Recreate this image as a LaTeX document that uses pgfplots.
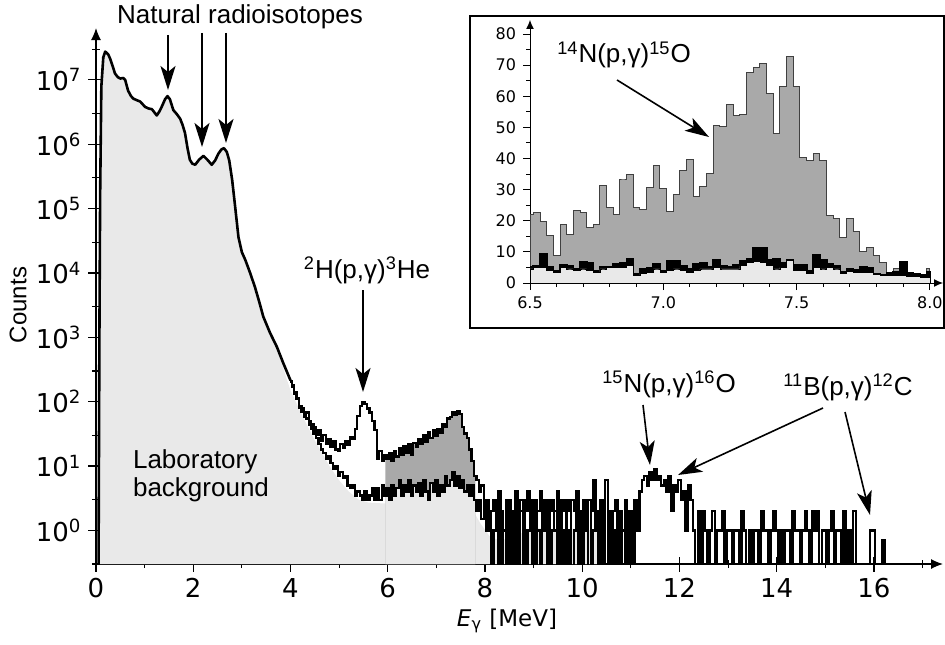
\documentclass[border=0pt]{standalone}
\usepackage{fontspec}
\setmainfont{Liberation Sans}
\newfontfamily\dejavu{DejaVu Sans}
\usepackage{pgfplots}
\usepackage{pgfplotstable}
\pgfplotsset{compat=1.18}
\usetikzlibrary{arrows.meta}

\definecolor{labgray}{HTML}{E9E9E9}
\definecolor{peakgray}{HTML}{A9A9A9}
\newcommand\ann{\fontsize{13}{14}\selectfont}
\pgfplotsset{table/bins/.style={x index=0, y index=0, x expr={4+0.05*\coordindex}, y expr={max(\thisrow{c},0.1)}}}

% counts per 0.05 MeV bin, first bin at 4.00 MeV (0 = empty bin)
\pgfplotstableread[row sep=\\]{
c\\
210\\180\\140\\115\\85\\78\\62\\68\\50\\45\\40\\30\\36\\25\\30\\22\\26\\20\\24\\18\\
17\\22\\19\\24\\21\\28\\26\\38\\60\\85\\97\\92\\78\\68\\50\\36\\13\\17\\12\\15\\
13\\16\\12\\17\\14\\19\\15\\20\\16\\22\\15\\23\\20\\26\\22\\30\\24\\33\\27\\36\\
29\\38\\33\\45\\40\\55\\58\\68\\62\\70\\65\\40\\32\\27\\18\\12\\7\\6\\4\\5\\
2\\3\\1\\2\\3\\1\\4\\2\\0\\3\\1\\2\\0\\4\\1\\3\\0\\2\\4\\1\\
3\\0\\2\\4\\1\\3\\0\\2\\3\\1\\4\\0\\2\\3\\1\\0\\3\\2\\4\\0\\
2\\3\\1\\0\\2\\6\\1\\0\\3\\0\\6\\1\\0\\2\\3\\0\\2\\1\\3\\0\\
2\\0\\3\\1\\4\\6\\7\\5\\8\\6\\9\\6\\7\\5\\6\\4\\7\\2\\5\\4\\
6\\3\\4\\1\\5\\3\\1\\0\\2\\0\\2\\1\\0\\1\\2\\0\\1\\1\\2\\0\\
1\\1\\0\\1\\1\\0\\2\\1\\0\\1\\0\\1\\1\\0\\2\\1\\1\\0\\1\\2\\
1\\0\\1\\0\\1\\1\\0\\2\\1\\1\\0\\1\\2\\1\\0\\2\\1\\2\\0\\1\\
1\\0\\1\\2\\0\\1\\1\\0\\2\\0\\1\\0\\2\\0\\0\\0\\0\\0\\0\\1\\
1\\0\\0\\0\\0.7\\0\\
}\beam

\pgfplotstableread[row sep=\\]{
c\\
205\\170\\130\\110\\80\\70\\58\\55\\44\\38\\32\\27\\22\\18\\16\\13\\14\\11\\9\\10\\
7\\8\\6.5\\7\\5\\4.5\\5\\3.5\\4\\3.5\\3\\4\\3\\3.5\\4.5\\3\\4.5\\3\\5\\3.5\\
4.5\\3\\5\\3.5\\4.5\\6\\3.5\\5\\4\\6\\3.5\\5\\4\\5.5\\3.5\\6\\4\\3\\5.5\\4\\
6\\3.5\\5\\4\\7\\5\\6\\8\\5\\7\\4.5\\6\\4\\5\\3.5\\5\\3\\2\\3\\1.5\\
2\\1\\2\\0\\1\\3\\0\\2\\1\\0\\3\\0\\2\\1\\0\\2\\3\\0\\1\\2\\
0\\3\\1\\0\\2\\1\\3\\0\\1\\2\\0\\3\\1\\0\\2\\3\\0\\1\\2\\1\\
0\\2\\1\\3\\0\\1\\2\\0\\1\\0\\0\\2\\0\\0\\1\\0\\0\\1\\0\\0\\
0\\
}\nobeam

\pgfplotstableread{
x     U    M    L
6.500 22   5    4.5
6.525 22.5 5.5  5
6.550 19.7 9.2  5
6.575 15.4 5    4
6.600 8.9  4    3.5
6.625 18.9 5.8  5
6.650 15.7 5.5  4.5
6.675 23.2 4.5  4
6.700 22.6 6.8  4.5
6.725 17.8 6.5  4
6.750 18.8 4    3.5
6.775 31.3 5.2  4.5
6.800 24.3 5    5
6.825 22.1 6    5
6.850 33.1 6.5  5
6.875 35.0 7.8  5.5
6.900 24.2 3    2.5
6.925 23.6 4.5  3
6.950 30.7 4.8  3.5
6.975 37.7 6    4.5
7.000 30.4 3.8  3.5
7.025 23.1 7    4
7.050 28.5 7    4.5
7.075 36.1 5.5  4
7.100 39.7 4.5  3.5
7.125 27.7 6    4
7.150 30.9 6.5  4.5
7.175 35.2 5    4.5
7.200 50.5 7.5  5
7.225 50.3 5.5  4.5
7.250 57.5 5.2  4.5
7.275 53.8 5.9  4.5
7.300 54.2 7    5.5
7.325 67.7 7.8  6.5
7.350 69.3 11.3 7
7.375 70.4 11.3 6.5
7.400 60.8 7.5  5.5
7.425 48.1 7.8  4.5
7.450 63.2 6.5  5
7.475 72.8 7.3  7.3
7.500 63.2 5.9  4
7.525 40.4 5.9  4
7.550 39.5 4    3
7.575 41.7 9.1  5
7.600 39.5 7.3  4.5
7.625 21.8 6.2  5
7.650 20.7 5.6  4.5
7.675 14.5 3.5  3
7.700 20.7 4.5  3.8
7.725 16.4 4.3  3.5
7.750 10.0 5.2  3.5
7.775 11.3 4.8  3.3
7.800 8.7  3    2.7
7.825 6.6  2.7  2.5
7.850 3.0  3.3  2.3
7.875 4.6  3.5  2.5
7.900 5.7  6.6  2.3
7.925 3.0  3.3  2.2
7.950 3.0  3    2
7.975 2.5  2.5  1.8
8.000 4.8  3.5  1.8
}\insetdata

\begin{document}
\begin{tikzpicture}[>={Stealth[length=12pt,width=7.5pt,inset=3pt]}]
\useasboundingbox (-48pt,-40pt) rectangle (424.5pt,282pt);
\begin{axis}[
    scale only axis, width=423.5pt, height=268pt,
    ymode=log, log origin y=infty,
    xmin=0, xmax=17.42, ymin=0.3, ymax=6.4e7,
    axis lines=left,
    axis line style={line width=0.6pt, -{Latex[length=6pt,width=5pt]}},
    xtick={0,2,...,16}, minor xtick={1,3,...,17},
    ytick={1,10,100,1000,10000,100000,1000000,10000000},
    yticklabels={10\textsuperscript{0},10\textsuperscript{1},10\textsuperscript{2},10\textsuperscript{3},
                 10\textsuperscript{4},10\textsuperscript{5},10\textsuperscript{6},10\textsuperscript{7}},
    minor ytick={0.3,3,30,300,3000,30000,300000,3000000,30000000},
    tick align=center, major tick length=7.5pt, minor tick length=4pt,
    every tick/.style={black, line width=0.6pt},
    tick label style={font=\fontsize{13}{14}\dejavu},
    /pgf/number format/assume math mode=true,
]
% laboratory background
\addplot[draw=none, fill=labgray] coordinates {
 (0.05,0.1) (0.07,1000) (0.085,1.6e5) (0.11,7.9e6) (0.15,2.24e7) (0.19,2.75e7)
 (0.25,2.5e7) (0.29,2.14e7) (0.34,1.66e7) (0.39,1.26e7) (0.45,1.1e7) (0.50,1.05e7)
 (0.56,1.07e7) (0.60,1.0e7) (0.66,6.8e6) (0.72,5.6e6) (0.77,5.1e6) (0.85,4.8e6)
 (0.91,4.6e6) (1.01,3.8e6) (1.08,3.6e6) (1.15,3.5e6) (1.25,2.8e6) (1.30,3.2e6)
 (1.35,3.8e6) (1.42,5.0e6) (1.47,5.6e6) (1.52,5.0e6) (1.59,3.4e6) (1.66,2.95e6)
 (1.73,2.5e6) (1.78,2.0e6) (1.83,1.5e6) (1.88,8.9e5) (1.93,5.75e5) (1.98,5.0e5)
 (2.04,4.8e5) (2.12,5.75e5) (2.21,6.6e5) (2.29,5.75e5) (2.38,4.8e5) (2.45,5.6e5)
 (2.52,7.2e5) (2.58,8.3e5) (2.63,8.7e5) (2.69,7.6e5) (2.74,5.6e5) (2.80,2.8e5)
 (2.86,1.1e5) (2.93,3.6e4) (3.00,2.1e4) (3.07,1.6e4) (3.17,1.0e4) (3.27,6.0e3)
 (3.36,3.5e3) (3.44,2.1e3) (3.58,1170) (3.72,710) (3.85,330) (4.0,150) (4.2,70)
 (4.5,25) (4.8,10) (5.0,6) (5.2,4) (5.4,3) (5.6,2.7) (6.0,2.6) (6.5,2.6) (7.0,2.7)
 (7.3,3.0) (7.5,3.0) (7.7,2.4) (7.9,1.3) (8.1,0.8) (8.3,0.7) (8.6,0.8) (9.0,1.1)
 (9.5,1.0) (10.0,1.1) (10.35,0.9) (10.4,0.1)} \closedcycle;
% 14N(p,g)15O shading between the two runs
\addplot[draw=none, fill=peakgray, const plot mark mid, restrict x to domain=5.95:7.8]
  table[bins] {\beam} \closedcycle;
\addplot[draw=none, fill=labgray, const plot mark mid, restrict x to domain=5.95:7.8]
  table[bins] {\nobeam} \closedcycle;
% spectrum below 4 MeV
\addplot[black, line width=1.3pt, line join=round] coordinates {
 (0.05,0.1) (0.07,1000) (0.085,1.6e5) (0.11,7.9e6) (0.15,2.24e7) (0.19,2.75e7)
 (0.25,2.5e7) (0.29,2.14e7) (0.34,1.66e7) (0.39,1.26e7) (0.45,1.1e7) (0.50,1.05e7)
 (0.56,1.07e7) (0.60,1.0e7) (0.66,6.8e6) (0.72,5.6e6) (0.77,5.1e6) (0.85,4.8e6)
 (0.91,4.6e6) (1.01,3.8e6) (1.08,3.6e6) (1.15,3.5e6) (1.25,2.8e6) (1.30,3.2e6)
 (1.35,3.8e6) (1.42,5.0e6) (1.47,5.6e6) (1.52,5.0e6) (1.59,3.4e6) (1.66,2.95e6)
 (1.73,2.5e6) (1.78,2.0e6) (1.83,1.5e6) (1.88,8.9e5) (1.93,5.75e5) (1.98,5.0e5)
 (2.04,4.8e5) (2.12,5.75e5) (2.21,6.6e5) (2.29,5.75e5) (2.38,4.8e5) (2.45,5.6e5)
 (2.52,7.2e5) (2.58,8.3e5) (2.63,8.7e5) (2.69,7.6e5) (2.74,5.6e5) (2.80,2.8e5)
 (2.86,1.1e5) (2.93,3.6e4) (3.00,2.1e4) (3.07,1.6e4) (3.17,1.0e4) (3.27,6.0e3)
 (3.36,3.5e3) (3.44,2.1e3) (3.58,1170) (3.72,710) (3.85,400) (4.00,214)};
% with and without the beam above 4 MeV
\addplot[black, line width=1.15pt, const plot mark mid] table[bins] {\nobeam};
\addplot[black, line width=1.15pt, const plot mark mid] table[bins] {\beam};
\end{axis}

\node[rotate=90, font=\fontsize{12}{14}\selectfont] at (-39pt,129.5pt) {Counts};
\node[font=\fontsize{11.5}{14}\dejavu] at (205.5pt,-28.5pt) {\textit{E}\textsubscript{γ} [MeV]};

\node[font=\ann] at (72pt,273.5pt) {Natural radioisotopes};
\draw[->, line width=1pt] (36pt,264.5pt) -- (36pt,237pt);
\draw[->, line width=1pt] (53pt,265.5pt) -- (53pt,208.5pt);
\draw[->, line width=1pt] (65pt,265.5pt) -- (65pt,210.5pt);

\node[font=\ann] at (135.5pt,147pt) {\textsuperscript{2}H(p,γ)\textsuperscript{3}He};
\draw[->, line width=1pt] (133.5pt,137pt) -- (133.5pt,86pt);

\node[font=\ann] at (286.5pt,90pt) {\textsuperscript{15}N(p,γ)\textsuperscript{16}O};
\draw[->, line width=0.8pt] (273.5pt,79.5pt) -- (277pt,49.5pt);

\node[font=\ann] at (376pt,88.5pt) {\textsuperscript{11}B(p,γ)\textsuperscript{12}C};
\draw[->, line width=0.8pt] (363.5pt,78pt) -- (291pt,44.5pt);
\draw[->, line width=0.8pt] (374.5pt,76pt) -- (387pt,24.5pt);

\node[font=\ann, anchor=west, align=left] at (15pt,44pt) {Laboratory\\background};

% inset
\draw[line width=1pt, fill=white] (187pt,118pt) rectangle (424pt,274pt);
\begin{axis}[
    at={(217pt,140.5pt)}, anchor=south west,
    scale only axis, width=206.5pt, height=131.5pt,
    xmin=6.5, xmax=8.049, ymin=0, ymax=84.5,
    axis lines=left,
    axis line style={line width=0.5pt, -{Latex[length=4.5pt,width=4pt]}},
    xtick={6.5,7,7.5,8},
    minor xtick={6.6,6.7,6.8,6.9,7.1,7.2,7.3,7.4,7.6,7.7,7.8,7.9},
    ytick={0,10,...,80}, minor ytick={5,15,...,75},
    tick align=outside, major tick length=3.5pt, minor tick length=2pt,
    every tick/.style={black, line width=0.5pt},
    tick label style={font=\fontsize{8}{9}\dejavu},
    /pgf/number format/assume math mode=true,
    xticklabel style={/pgf/number format/.cd, fixed, fixed zerofill, precision=1},
]
\addplot[const plot mark mid, fill=peakgray, draw=black!75, line width=0.5pt]
  table[x=x, y=U] {\insetdata} \closedcycle;
\addplot[const plot mark mid, fill=black, draw=black, line width=1pt]
  table[x=x, y=M] {\insetdata} \closedcycle;
\addplot[const plot mark mid, fill=labgray, draw=black, line width=0.4pt]
  table[x=x, y=L] {\insetdata} \closedcycle;
\end{axis}
\node[font=\ann] at (264pt,254.5pt) {\textsuperscript{14}N(p,γ)\textsuperscript{15}O};
\draw[->, line width=0.8pt] (260.5pt,242pt) -- (306.5pt,213.5pt);
\end{tikzpicture}
\end{document}
